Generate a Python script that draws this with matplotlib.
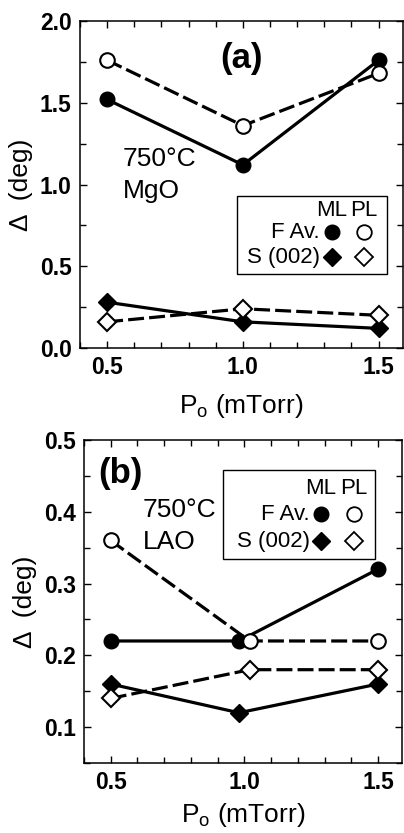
import matplotlib
matplotlib.use("Agg")
import matplotlib.pyplot as plt
from matplotlib.patches import Rectangle
from matplotlib.ticker import MultipleLocator

plt.rcParams['font.family'] = ['Liberation Sans', 'DejaVu Sans']
plt.rcParams['mathtext.fontset'] = 'custom'
plt.rcParams['mathtext.rm'] = 'Liberation Sans'
plt.rcParams['mathtext.it'] = 'Liberation Sans:italic'

# ---- data ----
pressure = [0.5, 1.0, 1.5]
a_fav_ml = [1.52, 1.12, 1.76]
a_fav_pl = [1.76, 1.36, 1.68]
a_s_ml = [0.28, 0.16, 0.12]
a_s_pl = [0.16, 0.24, 0.20]

pressure_b_ml = [0.5, 0.98, 1.5]
pressure_b_pl = [0.5, 1.02, 1.5]
b_fav_ml = [0.22, 0.22, 0.32]
b_fav_pl = [0.36, 0.22, 0.22]
b_s_ml = [0.16, 0.12, 0.16]
b_s_pl = [0.14, 0.18, 0.18]

xticks = [0.5, 1.0, 1.5]
xticklabels = ['0.5', '1.0', '1.5']
a_yticks = [0.0, 0.5, 1.0, 1.5, 2.0]
b_yticks = [0.1, 0.2, 0.3, 0.4, 0.5]

W, H = 404, 833
fig = plt.figure(figsize=(W/100, H/100), dpi=100)

def px_axes(l, r, t, b):
    return fig.add_axes([l/W, 1-b/H, (r-l)/W, (b-t)/H])

ax_a = px_axes(80, 403, 21, 348)
ax_b = px_axes(84, 402, 440, 763)

LW = 2.3
DASH = (5, 1.6)
MS_C = 10.5
MS_D = 9
TICK_FS = 16.5
LAB_FS = 19
LEG_FS = 16

def draw(ax, xml, xpl, fml, fpl, sml, spl):
    ax.plot(xml, sml, '-', color='black', lw=LW, marker='D', ms=MS_D, mfc='black', mec='black', zorder=3)
    ax.plot(xpl, spl, '--', dashes=DASH, color='black', lw=LW, marker='D', ms=MS_D, mfc='white', mec='black', mew=1.5, zorder=3)
    ax.plot(xml, fml, '-', color='black', lw=LW, marker='o', ms=MS_C, mfc='black', mec='black', zorder=3)
    ax.plot(xpl, fpl, '--', dashes=DASH, color='black', lw=LW, marker='o', ms=MS_C, mfc='white', mec='black', mew=1.5, zorder=4)

def style(ax, ylim, yticks, yminor, ylabels, xpad):
    ax.set_xlim(0.4, 1.59)
    ax.set_ylim(*ylim)
    ax.set_xticks(xticks)
    ax.set_xticklabels(xticklabels, fontweight='bold', fontsize=TICK_FS)
    ax.xaxis.set_minor_locator(MultipleLocator(0.1))
    ax.set_yticks(yticks)
    ax.set_yticklabels(ylabels, fontweight='bold', fontsize=TICK_FS)
    ax.yaxis.set_minor_locator(MultipleLocator(yminor))
    ax.tick_params(which='both', direction='in', top=True, right=True, width=1.0)
    ax.tick_params(which='major', length=5, pad=6)
    ax.tick_params(which='minor', length=4)
    for s in ax.spines.values():
        s.set_linewidth(1.1)
    ax.set_xlabel(r'P$_\mathrm{o}$ (mTorr)', fontsize=LAB_FS, labelpad=xpad)
    ax.set_ylabel('Δ  (deg)', fontsize=LAB_FS, labelpad=5)

def legend(ax, box, ml_x, pl_x, hdr_y, f_y, s_y, lab_x):
    x0, y0, x1, y1 = box
    ax.add_patch(Rectangle((x0, y0), x1-x0, y1-y0, transform=ax.transAxes,
                           facecolor='white', edgecolor='black', lw=1.0, zorder=5))
    ax.text(ml_x, hdr_y, 'ML', transform=ax.transAxes, ha='center', va='center', fontsize=LEG_FS, zorder=6)
    ax.text(pl_x, hdr_y, 'PL', transform=ax.transAxes, ha='center', va='center', fontsize=LEG_FS, zorder=6)
    ax.text(lab_x, f_y, 'F Av.', transform=ax.transAxes, ha='right', va='center', fontsize=LEG_FS, zorder=6)
    ax.text(lab_x, s_y, 'S (002)', transform=ax.transAxes, ha='right', va='center', fontsize=LEG_FS, zorder=6)
    ax.plot([ml_x], [f_y], 'o', transform=ax.transAxes, ms=MS_C, mfc='black', mec='black', zorder=6)
    ax.plot([pl_x], [f_y], 'o', transform=ax.transAxes, ms=MS_C, mfc='white', mec='black', mew=1.3, zorder=6)
    ax.plot([ml_x], [s_y], 'D', transform=ax.transAxes, ms=MS_D, mfc='black', mec='black', zorder=6)
    ax.plot([pl_x], [s_y], 'D', transform=ax.transAxes, ms=MS_D, mfc='white', mec='black', mew=1.3, zorder=6)

# ---- panel (a) ----
draw(ax_a, pressure, pressure, a_fav_ml, a_fav_pl, a_s_ml, a_s_pl)
style(ax_a, (0.0, 2.0), a_yticks, 0.25, ['0.0', '0.5', '1.0', '1.5', '2.0'], 9)
ax_a.text(0.50, 0.884, '(a)', transform=ax_a.transAxes, ha='center', va='center', fontsize=25, fontweight='bold')
ax_a.text(0.133, 0.578, '750°C', transform=ax_a.transAxes, ha='left', va='center', fontsize=LAB_FS)
ax_a.text(0.133, 0.48, 'MgO', transform=ax_a.transAxes, ha='left', va='center', fontsize=LAB_FS)
legend(ax_a, (0.486, 0.226, 0.950, 0.465),
       (332-80)/323, (364-80)/323,
       1-(210-21)/327, 1-(232-21)/327, 1-(257-21)/327, (320-80)/323)

# ---- panel (b) ----
draw(ax_b, pressure_b_ml, pressure_b_pl, b_fav_ml, b_fav_pl, b_s_ml, b_s_pl)
style(ax_b, (0.05, 0.5), b_yticks, 0.05, ['0.1', '0.2', '0.3', '0.4', '0.5'], 5)
ax_b.text((120-84)/318, 1-(473-440)/323, '(b)', transform=ax_b.transAxes, ha='center', va='center', fontsize=25, fontweight='bold')
ax_b.text((143-84)/318, 1-(510-440)/323, '750°C', transform=ax_b.transAxes, ha='left', va='center', fontsize=LAB_FS)
ax_b.text((143-84)/318, 1-(542-440)/323, 'LAO', transform=ax_b.transAxes, ha='left', va='center', fontsize=LAB_FS)
legend(ax_b, (0.437, 0.632, 0.915, 0.907),
       (321-84)/318, (354-84)/318,
       1-(488-440)/323, 1-(514-440)/323, 1-(541-440)/323, (310-84)/318)

fig.savefig('out.png', dpi=100)
